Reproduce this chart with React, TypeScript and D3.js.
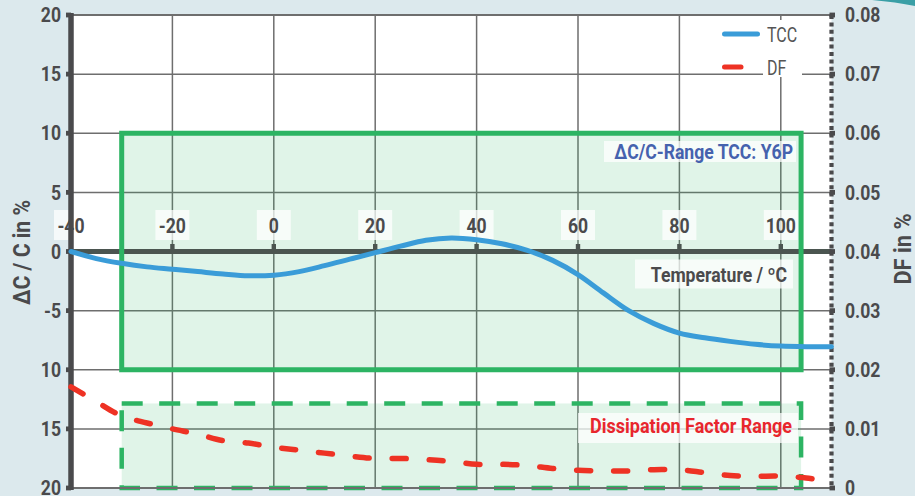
import React from "react";
import * as d3 from "d3";

// temperature grid (°C) used for both curves
const temps = [-40, -35, -30, -25, -20, -15, -10, -5, 0, 5, 10, 15, 20, 25, 30, 35, 40, 45, 50, 55, 60, 65, 70, 75, 80, 85, 90, 95, 100, 105, 110];
// capacitance change ΔC/C in %
const tccValues = [0, -0.6, -1.0, -1.3, -1.5, -1.7, -1.9, -2.05, -2.0, -1.7, -1.2, -0.65, -0.1, 0.45, 0.95, 1.15, 1.0, 0.65, 0.1, -0.75, -1.95, -3.5, -5.0, -6.1, -6.9, -7.3, -7.6, -7.85, -8.0, -8.05, -8.05];
// dissipation factor in %
const dfValues = [0.0171, 0.0146, 0.0122, 0.011, 0.01, 0.0091, 0.008, 0.0076, 0.0069, 0.0064, 0.0059, 0.0054, 0.005, 0.005, 0.0048, 0.0045, 0.004, 0.004, 0.0038, 0.0033, 0.003, 0.0029, 0.0029, 0.0031, 0.0031, 0.0026, 0.0021, 0.002, 0.002, 0.0017, 0.001];

const xTicks = [-40, -20, 0, 20, 40, 60, 80, 100];
const leftTicks = [20, 15, 10, 5, 0, -5, -10, -15, -20];
const leftTickLabels = ["20", "15", "10", "5", "0", "-5", "10", "15", "20"];
const rightTicks = [0.08, 0.07, 0.06, 0.05, 0.04, 0.03, 0.02, 0.01, 0];
const rightTickLabels = ["0.08", "0.07", "0.06", "0.05", "0.04", "0.03", "0.02", "0.01", "0"];

// spec windows
const tccBoxTemp = [-30, 104];
const tccBoxLimits = [-10, 10];
const dfBoxTemp = [-30, 104];
const dfBoxLimits = [0, 0.0143];

const W = 915;
const H = 496;

const FONT = "Roboto, 'DejaVu Sans', sans-serif";
const DARK = "#4a4a4c";
const GREEN = "#2db463";

// condensed-looking text: Roboto squeezed horizontally
const CT = ({ x, y, anchor = "start", size = 20, weight = 700, fill = DARK, sx = 0.88, rotate = 0, children }: any) => (
  <text
    transform={`translate(${x},${y})${rotate ? ` rotate(${rotate})` : ""} scale(${sx},1)`}
    textAnchor={anchor}
    fontSize={size}
    fontWeight={weight}
    fill={fill}
    fontFamily={FONT}
  >
    {children}
  </text>
);

const App: React.FC = () => {
  const x = d3.scaleLinear().domain([-40, 110]).range([71, 831.5]);
  const yL = d3.scaleLinear().domain([-20, 20]).range([488, 15]);
  const yR = d3.scaleLinear().domain([0, 0.08]).range([488, 15]);

  const [x0, x1] = x.range();
  const yTop = yL(20);
  const yBot = yL(-20);

  const tccLine = d3.line<number>()
    .x((_, i) => x(temps[i]))
    .y(d => yL(d))
    .curve(d3.curveCatmullRom.alpha(0.5));
  const dfLine = d3.line<number>()
    .x((_, i) => x(temps[i]))
    .y(d => yR(d))
    .curve(d3.curveCatmullRom.alpha(0.5));

  const tbx = x(tccBoxTemp[0]), tbx2 = x(tccBoxTemp[1]);
  const tby = yL(tccBoxLimits[1]), tby2 = yL(tccBoxLimits[0]);
  const dbx = x(dfBoxTemp[0]), dbx2 = x(dfBoxTemp[1]);
  const dby = yR(dfBoxLimits[1]), dby2 = yR(dfBoxLimits[0]);

  return (
    <svg width={W} height={H} style={{ position: "absolute", left: 0, top: 0 }}>
      <rect width={W} height={H} fill="#dce9ed" />
      <path d="M872,0 Q896,2 915,6 L915,0 Z" fill="#3a9fa6" />

      {/* plot area */}
      <rect x={x0} y={yTop} width={x1 - x0} height={yBot - yTop} fill="#fff" />

      {/* grid */}
      <g stroke="#6e6e6e" strokeWidth={1.5}>
        {xTicks.slice(1).map(t => (
          <line key={t} x1={x(t)} x2={x(t)} y1={yTop} y2={yBot} />
        ))}
        {leftTicks.filter(t => t !== 0).map(t => (
          <line key={t} x1={x0} x2={x1} y1={yL(t)} y2={yL(t)} />
        ))}
      </g>

      {/* range fills */}
      <rect x={tbx} y={tby} width={tbx2 - tbx} height={tby2 - tby} fill={GREEN} fillOpacity={0.15} />
      <rect x={dbx} y={dby} width={dbx2 - dbx} height={dby2 - dby} fill={GREEN} fillOpacity={0.15} />

      {/* zero line with tick nubs */}
      <line x1={x0} x2={x1} y1={yL(0)} y2={yL(0)} stroke="#4b5550" strokeWidth={4.8} />
      {xTicks.slice(1).map(t => (
        <rect key={t} x={x(t) - 2.2} y={yL(0) - 7.5} width={4.4} height={5} fill="#4b5550" />
      ))}

      {/* range outlines */}
      <rect x={tbx} y={tby} width={tbx2 - tbx} height={tby2 - tby} fill="none" stroke={GREEN} strokeWidth={5} />
      <rect x={dbx} y={dby} width={dbx2 - dbx} height={dby2 - dby} fill="none" stroke={GREEN} strokeWidth={4.5} strokeDasharray="21 16.5" />

      {/* x tick labels */}
      {xTicks.map(t => (
        <g key={t}>
          <rect x={x(t) - 17} y={210} width={34} height={30} fill="#fff" fillOpacity={0.72} />
          <CT x={x(t)} y={232.5} anchor="middle">{t}</CT>
        </g>
      ))}
      <rect x={635} y={259.5} width={158} height={29} fill="#fff" fillOpacity={0.72} />
      <CT x={787} y={281.5} anchor="end">Temperature / ºC</CT>

      {/* range labels */}
      <rect x={604} y={141} width={192} height={21} fill="#fff" fillOpacity={0.72} />
      <CT x={793} y={159} anchor="end" fill="#4562ae">ΔC/C-Range TCC: Y6P</CT>
      <rect x={578} y={413} width={220} height={30} fill="#fff" fillOpacity={0.72} />
      <CT x={792} y={433} anchor="end" size={20} sx={0.9} fill="#e8262d">Dissipation Factor Range</CT>

      {/* top & bottom borders */}
      <line x1={x0} x2={x1} y1={yTop} y2={yTop} stroke="#6e6e6e" strokeWidth={1.8} />
      <line x1={x0} x2={x1} y1={yBot} y2={yBot} stroke="#6e6e6e" strokeWidth={1.8} />

      {/* left axis */}
      <line x1={x0} x2={x0} y1={yTop - 2} y2={yBot + 2} stroke={DARK} strokeWidth={5.5} />
      {leftTicks.map((t, i) => (
        <g key={t}>
          <rect x={x0 - 5} y={yL(t) - 2.4} width={5} height={4.8} fill={DARK} />
          <CT x={61} y={yL(t) + 7.2} anchor="end">{leftTickLabels[i]}</CT>
        </g>
      ))}

      {/* right axis, dotted */}
      <line x1={x1} x2={x1} y1={yTop} y2={yBot} stroke={DARK} strokeWidth={4.2} strokeDasharray="4 3.4" />
      {rightTicks.map((t, i) => (
        <g key={t}>
          <rect x={x1 - 2} y={yR(t) - 2.4} width={5.5} height={4.8} fill={DARK} />
          <CT x={845} y={yR(t) + 7.2}>{rightTickLabels[i]}</CT>
        </g>
      ))}

      {/* axis titles */}
      <CT x={30} y={252.5} rotate={-90} anchor="middle" size={23} sx={0.92}>ΔC / C in %</CT>
      <CT x={911} y={249} rotate={-90} anchor="middle" size={23} sx={0.95}>DF in %</CT>

      {/* curves */}
      <path d={tccLine(tccValues) || ""} fill="none" stroke="#3a9cd8" strokeWidth={5} strokeLinecap="round" />
      <path d={dfLine(dfValues) || ""} fill="none" stroke="#ee3224" strokeWidth={5.5} strokeLinecap="round" strokeDasharray="14 23" />

      {/* legend */}
      <rect x={763} y={20} width={39} height={57} fill="#fff" />
      <line x1={724.5} x2={757.5} y1={34} y2={34} stroke="#3a9cd8" strokeWidth={5} strokeLinecap="round" />
      <CT x={767} y={41.7} weight={400} sx={0.8} fill="#555">TCC</CT>
      <line x1={724.5} x2={741} y1={67} y2={67} stroke="#ee3224" strokeWidth={5} strokeLinecap="round" />
      <CT x={767} y={75} weight={400} sx={0.8} fill="#555">DF</CT>
    </svg>
  );
};

export default App;
